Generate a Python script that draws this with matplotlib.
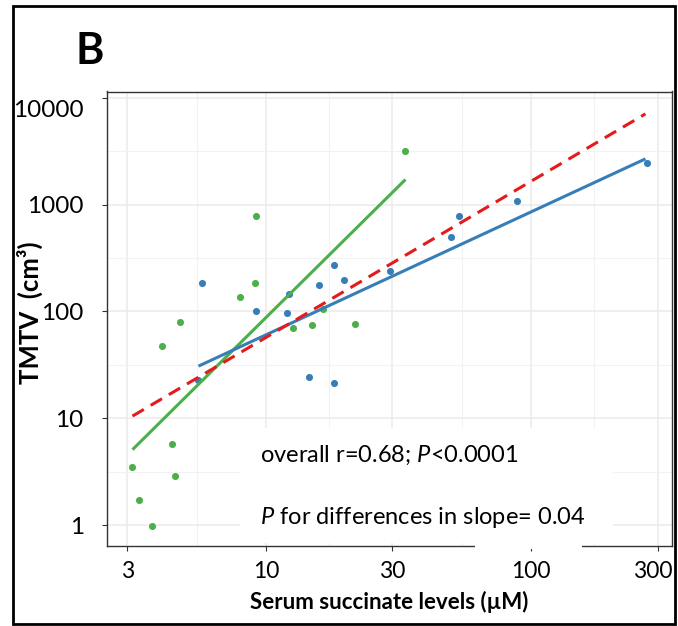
import numpy as np
import matplotlib
matplotlib.use("Agg")
from matplotlib import pyplot as plt
from matplotlib import transforms
from matplotlib.patches import Rectangle
from matplotlib.ticker import FixedLocator, NullFormatter

plt.rcParams['font.family'] = ['Lato', 'DejaVu Sans']
plt.rcParams['mathtext.fontset'] = 'custom'
plt.rcParams['mathtext.rm'] = 'Lato'
plt.rcParams['mathtext.it'] = 'Lato:italic'
plt.rcParams['mathtext.bf'] = 'Lato:bold'

# group 1 (green)
green_x = [33.6, 9.14, 9.06, 7.98, 4.74, 4.04, 12.7, 14.9, 21.7, 16.4, 4.43, 3.13, 4.55, 3.33, 3.73]
green_y = [3199, 789, 185, 137, 79.4, 47.8, 69.3, 75.2, 75.6, 105, 5.80, 3.48, 2.89, 1.74, 0.985]

# group 2 (blue)
blue_x = [5.75, 9.14, 11.96, 12.25, 15.8, 18.1, 19.7, 29.3, 50.0, 53.6, 88.2, 274, 14.6, 18.0, 5.54]
blue_y = [184, 101.5, 97.2, 146, 176, 273, 196, 237, 494, 789, 1083, 2432, 24.2, 21.2, 22.6]

# fitted lines (end points)
green_fit_x = [3.14, 33.6]
green_fit_y = [5.1, 1713]
blue_fit_x = [5.57, 270]
blue_fit_y = [30.8, 2673]
overall_fit_x = [3.14, 270]
overall_fit_y = [10.5, 7042]

x_ticks = [3, 10, 30, 100, 300]
y_ticks = [1, 10, 100, 1000, 10000]

GREEN = '#4DAF4A'
BLUE = '#377EB8'
RED = '#E41A1C'

fig = plt.figure(figsize=(6.78, 6.26), dpi=100)
W, H = 678, 626
ax = fig.add_axes([106.7 / W, 1 - 546 / H, (672 - 106.7) / W, (546 - 91.5) / H])

ax.set_xscale('log')
ax.set_yscale('log')
ax.set_xlim(2.51, 340)
ax.set_ylim(0.64, 11400)

# ggplot style minor breaks: halfway between majors in log space
x_minor = [np.sqrt(a * b) for a, b in zip(x_ticks[:-1], x_ticks[1:])]
y_minor = [np.sqrt(a * b) for a, b in zip(y_ticks[:-1], y_ticks[1:])] + [np.sqrt(10000 * 100000)]
ax.xaxis.set_major_locator(FixedLocator(x_ticks))
ax.yaxis.set_major_locator(FixedLocator(y_ticks))
ax.xaxis.set_minor_locator(FixedLocator(x_minor))
ax.yaxis.set_minor_locator(FixedLocator(y_minor))
ax.xaxis.set_minor_formatter(NullFormatter())
ax.yaxis.set_minor_formatter(NullFormatter())
ax.set_xticklabels([str(t) for t in x_ticks])
ax.set_yticklabels([str(t) for t in y_ticks])

ax.grid(True, which='major', color='#EBEBEB', lw=1.1, zorder=0)
ax.grid(True, which='minor', color='#F2F2F2', lw=0.8, zorder=0)
ax.set_axisbelow(True)
ax.tick_params(which='minor', length=0)
ax.tick_params(which='major', length=3.5, width=0.8, color='#333333', labelcolor='black')
ax.tick_params(axis='y', pad=13, labelsize=17.5)
ax.tick_params(axis='x', pad=7, labelsize=16.5)
for s in ax.spines.values():
    s.set_color('#333333')
    s.set_linewidth(1.0)

# the pasted labels sit a little off their ticks in the original
top_lab = ax.get_yticklabels()[-1]
top_lab.set_transform(top_lab.get_transform() + transforms.ScaledTranslation(0, -11 / 100, fig.dpi_scale_trans))
right_lab = ax.get_xticklabels()[-1]
right_lab.set_transform(right_lab.get_transform() + transforms.ScaledTranslation(-5 / 100, 0, fig.dpi_scale_trans))

ax.scatter(green_x, green_y, s=26, color=GREEN, zorder=3, linewidths=0)
ax.scatter(blue_x, blue_y, s=26, color=BLUE, zorder=3, linewidths=0)
ax.plot(green_fit_x, green_fit_y, color=GREEN, lw=2.2, zorder=4, solid_capstyle='butt')
ax.plot(blue_fit_x, blue_fit_y, color=BLUE, lw=2.2, zorder=4, solid_capstyle='butt')
ax.plot(overall_fit_x, overall_fit_y, color=RED, lw=2.2, ls=(0, (4.3, 2.6)), zorder=5)

# white text box pasted over the panel
ax.add_patch(Rectangle((240 / W, 1 - 543 / H), (613 - 240) / W, (543 - 428) / H,
                       transform=fig.transFigure, facecolor='white', edgecolor='none',
                       zorder=6, clip_on=False))
ax.add_patch(Rectangle((475 / W, 1 - 549 / H), (582 - 475) / W, (549 - 540) / H,
                       transform=fig.transFigure, facecolor='white', edgecolor='none',
                       zorder=6, clip_on=False))
fig.text(260 / W, 1 - 455 / H, r'overall r=0.68; $\mathit{P}$<0.0001', fontsize=17,
         va='center', ha='left', zorder=7)
fig.text(260 / W, 1 - 517 / H, r'$\mathit{P}$ for differences in slope= 0.04', fontsize=17,
         va='center', ha='left', zorder=7)

ax.set_xlabel('Serum succinate levels (µM)', fontsize=16, fontweight='bold', labelpad=7)
fig.text(30 / W, 1 - 313 / H, 'TMTV  (cm³)', rotation=90, fontsize=18.5, fontweight='bold',
         ha='center', va='center')
fig.text(90 / W, 1 - 51 / H, 'B', fontsize=31, fontweight='bold', ha='center', va='center')

# outer frame around the panel
fig.patches.append(Rectangle((13 / W, 1 - 624 / H), (675 - 13) / W, (624 - 6) / H,
                             transform=fig.transFigure, fill=False, edgecolor='black', lw=2))

fig.savefig('out.png', dpi=100)
